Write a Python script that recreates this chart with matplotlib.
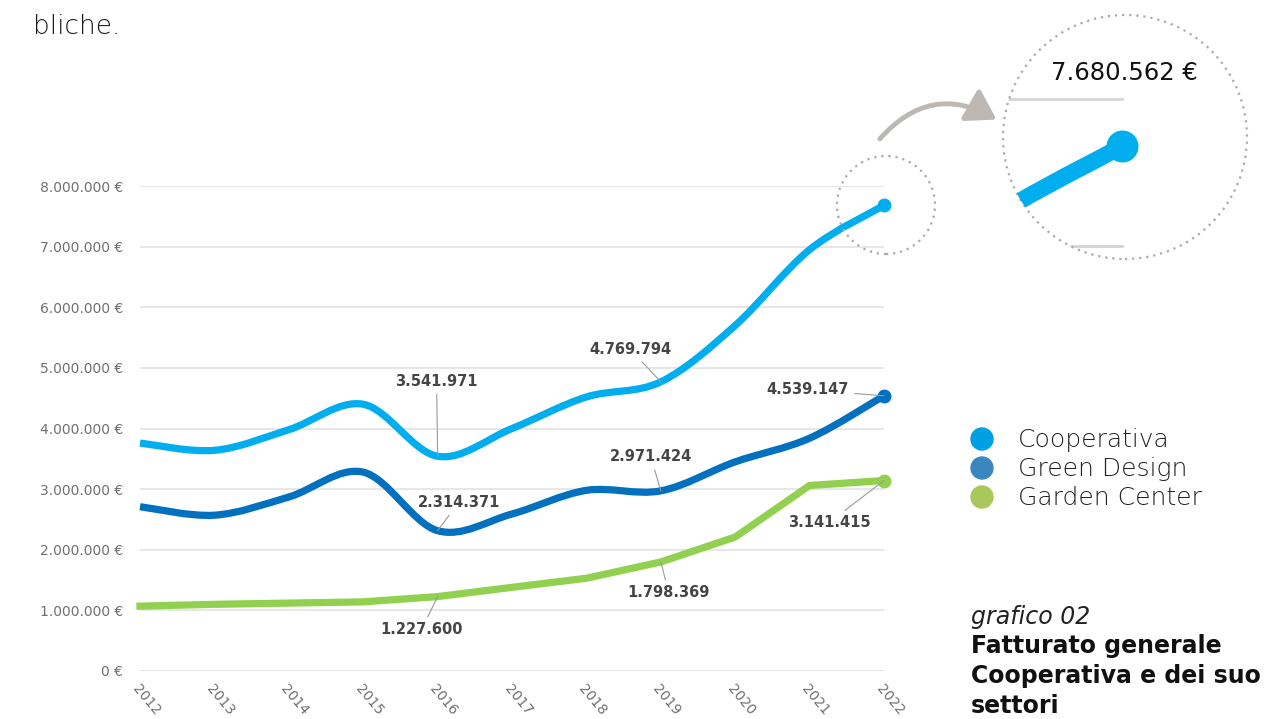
import matplotlib
matplotlib.use("Agg")
import matplotlib.pyplot as plt
import numpy as np
from matplotlib.path import Path
from matplotlib.patches import PathPatch, Circle, FancyArrowPatch

years = [2012, 2013, 2014, 2015, 2016, 2017, 2018, 2019, 2020, 2021, 2022]
cooperativa = [3.76e6, 3.64e6, 3.98e6, 4.40e6, 3541971, 4.00e6, 4.52e6, 4769794, 5.70e6, 6.95e6, 7680562]
green_design = [2.71e6, 2.57e6, 2.87e6, 3.28e6, 2314371, 2.59e6, 2.98e6, 2971424, 3.45e6, 3.84e6, 4539147]
garden_center = [1.07e6, 1.10e6, 1.12e6, 1.14e6, 1227600, 1.38e6, 1.53e6, 1798369, 2.21e6, 3.06e6, 3141415]
series_names = ["Cooperativa", "Green Design", "Garden Center"]
yticks = [0, 1e6, 2e6, 3e6, 4e6, 5e6, 6e6, 7e6, 8e6]
ytick_labels = ["0 €", "1.000.000 €", "2.000.000 €", "3.000.000 €", "4.000.000 €",
                "5.000.000 €", "6.000.000 €", "7.000.000 €", "8.000.000 €"]
# (series index, year index, text, dx px, dy px)
annotations = [
    (0, 4, "3.541.971", -1, 75),
    (0, 7, "4.769.794", -30, 32),
    (1, 10, "4.539.147", -76, 6),
    (1, 7, "2.971.424", -10, 34),
    (1, 4, "2.314.371", 21, 28),
    (2, 10, "3.141.415", -55, -42),
    (2, 7, "1.798.369", 8, -31),
    (2, 4, "1.227.600", -16, -33),
]

C_COOP = "#00AEEF"
C_GD = "#0070BF"
C_GC = "#92D050"
LEG_COLORS = ["#009FE3", "#3A87C0", "#A8C85A"]
GRID = "#E3E3E3"
FONT = "DejaVu Sans"

plt.rcParams['font.family'] = [FONT]

W, H = 1268, 719
fig = plt.figure(figsize=(W / 100, H / 100), dpi=100)


def smooth_path(xs, ys):
    xs = np.asarray(xs, float)
    ys = np.asarray(ys, float)
    verts = [(xs[0], ys[0])]
    codes = [Path.MOVETO]
    n = len(xs)
    for i in range(n - 1):
        x0, y0 = (xs[i - 1], ys[i - 1]) if i > 0 else (xs[i], ys[i])
        x1, y1 = xs[i], ys[i]
        x2, y2 = xs[i + 1], ys[i + 1]
        x3, y3 = (xs[i + 2], ys[i + 2]) if i + 2 < n else (xs[i + 1], ys[i + 1])
        c1 = (x1 + (x2 - x0) / 6, y1 + (y2 - y0) / 6)
        c2 = (x2 - (x3 - x1) / 6, y2 - (y3 - y1) / 6)
        verts += [c1, c2, (x2, y2)]
        codes += [Path.CURVE4] * 3
    return Path(verts, codes)


def draw_series(ax, lw, ms, clip=None):
    arts = []
    for vals, col, smooth in [(garden_center, C_GC, False), (green_design, C_GD, True), (cooperativa, C_COOP, True)]:
        if smooth:
            p = PathPatch(smooth_path(years, vals), facecolor="none", edgecolor=col, lw=lw,
                          capstyle="butt", joinstyle="round", clip_on=False, zorder=3)
            ax.add_patch(p)
            arts.append(p)
        else:
            l, = ax.plot(years, vals, color=col, lw=lw, solid_joinstyle="round", clip_on=False, zorder=3)
            arts.append(l)
        m, = ax.plot([years[-1]], [vals[-1]], "o", color=col, ms=ms, clip_on=False, zorder=4)
        arts.append(m)
    if clip is not None:
        for a in arts:
            a.set_clip_on(True)
            a.set_clip_path(clip)
    return arts


# main axes
ax = fig.add_axes([140 / W, 1 - 671 / H, (884 - 140) / W, (671 - 186) / H])
ax.set_xlim(2012, 2022)
ax.set_ylim(0, 8e6)
for s in ax.spines.values():
    s.set_visible(False)
ax.set_yticks(yticks)
ax.set_yticklabels(ytick_labels, color="#707070", fontsize=10)
ax.set_xticks(years)
ax.set_xticklabels([str(y) for y in years], rotation=-50, ha="left", va="top",
                   rotation_mode="anchor", color="#707070", fontsize=10)
ax.tick_params(length=0, pad=12)
ax.tick_params(axis="x", pad=8)
ax.grid(axis="y", color=GRID, lw=1.2)
ax.set_axisbelow(True)
draw_series(ax, lw=5.2, ms=9)

for si, yi, txt, dx, dy in annotations:
    vals = [cooperativa, green_design, garden_center][si]
    ax.annotate(txt, xy=(years[yi], vals[yi]), xytext=(dx * 0.72, dy * 0.72),
                textcoords="offset points", ha="center", va="center",
                fontsize=10.5, fontweight="bold", color="#454545",
                arrowprops=dict(arrowstyle="-", color="#9A9A9A", lw=0.8,
                                shrinkA=2, shrinkB=0), zorder=6)

# small dotted circle
fig.patches.append(Circle((8.86, (H - 205) / 100), 0.49, transform=fig.dpi_scale_trans,
                          fill=False, ec="#AAAAAA", lw=1.6, ls=(0, (1, 2.2)), zorder=7))

# inset zoom axes
inset = fig.add_axes([1003 / W, 1 - 259 / H, 244 / W, 244 / H])
inset.set_xlim(2021.34, 2022.69)
inset.set_ylim(6.91e6, 8.57e6)
inset.axis("off")
clip = Circle((0.5, 0.5), 0.5, transform=inset.transAxes, fill=False, ec="none")
inset.add_patch(clip)
for gy in [7e6, 8e6]:
    gl, = inset.plot([2012, 2022], [gy, gy], color="#D5D5D5", lw=2, zorder=1)
    gl.set_clip_path(clip)
draw_series(inset, lw=12, ms=22, clip=clip)
inset.add_patch(Circle((0.5, 0.5), 0.5, transform=inset.transAxes, fill=False,
                       ec="#AAAAAA", lw=1.6, ls=(0, (1, 2.2)), clip_on=False))
fig.text(1124 / W, 1 - 73 / H, "7.680.562 €", ha="center", va="center",
         fontsize=17.5, color="#111111")

# curved arrow
arrow = FancyArrowPatch((878 / W, 1 - 141 / H), (999 / W, 1 - 121 / H), transform=fig.transFigure,
                        connectionstyle="arc3,rad=-0.42", arrowstyle="-|>,head_length=8,head_width=5",
                        mutation_scale=2.2, color="#BEB8B5", lw=3.5)
fig.patches.append(arrow)

# top text fragment
fig.text(33 / W, 1 - 27 / H, "bliche.", ha="left", va="center", fontsize=19, color="#1A1A1A",
         fontweight="light")

# legend
for i, (name, col) in enumerate(zip(series_names, LEG_COLORS)):
    yp = 439 + i * 29
    fig.patches.append(Circle((9.82, (H - yp) / 100), 0.11, transform=fig.dpi_scale_trans,
                              color=col, zorder=5))
    fig.text(1018 / W, 1 - (yp + 1) / H, name, ha="left", va="center", fontsize=18,
             color="#222222", fontweight="light")

# title block
fig.text(971 / W, 1 - 617 / H, "grafico 02", ha="left", va="center", fontsize=17,
         style="italic", color="#222222", fontweight="light")
for i, t in enumerate(["Fatturato generale", "Cooperativa e dei suo", "settori"]):
    fig.text(971 / W, 1 - (646 + i * 30) / H, t, ha="left", va="center", fontsize=17,
             fontweight="bold", color="#111111")

fig.savefig("out.png", dpi=100)
